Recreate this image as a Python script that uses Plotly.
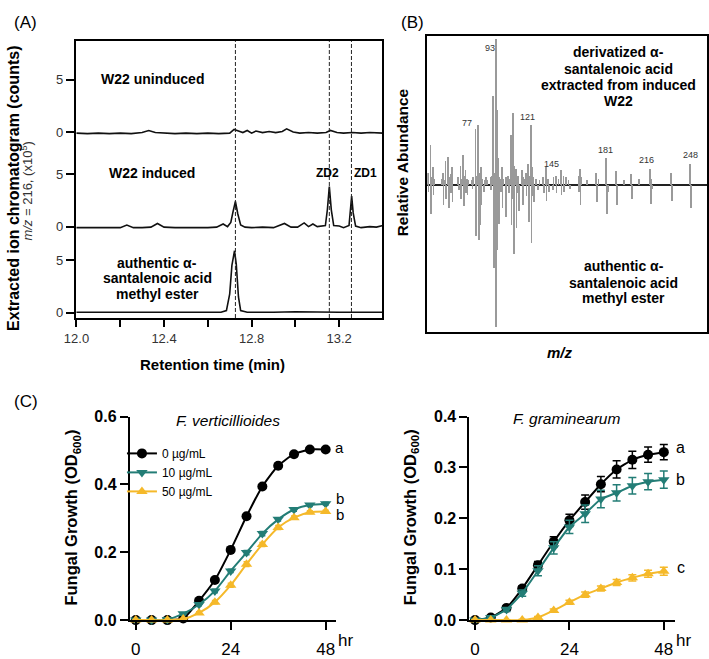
import plotly.graph_objects as go

W, H = 709, 659
FONT = "Liberation Sans, Arial, Helvetica, sans-serif"


def px(x):
    return x / W


def py(y):
    return 1 - y / H


# ---------------- Panel A: extracted ion chromatograms ----------------
rt_uninduced = [12.00, 12.05, 12.10, 12.15, 12.20, 12.25, 12.30, 12.33, 12.36, 12.40,
                12.45, 12.50, 12.55, 12.60, 12.65, 12.70, 12.72, 12.74, 12.76, 12.78,
                12.80, 12.82, 12.85, 12.88, 12.91, 12.94, 12.96, 12.99, 13.02, 13.06,
                13.10, 13.14, 13.16, 13.19, 13.22, 13.26, 13.30, 13.34, 13.38, 13.40]
int_uninduced = [-0.1, -0.15, -0.1, -0.15, -0.1, -0.15, -0.05, 0.15, -0.05, -0.1,
                 -0.15, -0.1, -0.15, -0.1, -0.15, -0.1, 0.25, 0.1, -0.05, 0.15,
                 -0.1, 0.1, -0.05, 0.05, -0.05, 0.05, 0.3, 0.0, -0.1, -0.05,
                 -0.1, -0.05, 0.15, -0.05, -0.1, -0.05, -0.1, -0.05, -0.1, -0.1]

rt_induced = [12.00, 12.05, 12.10, 12.15, 12.20, 12.23, 12.26, 12.30, 12.34, 12.37,
              12.40, 12.45, 12.50, 12.55, 12.60, 12.64, 12.67, 12.69, 12.705, 12.715,
              12.726, 12.737, 12.75, 12.77, 12.80, 12.85, 12.90, 12.95, 12.98, 13.01,
              13.04, 13.06, 13.08, 13.10, 13.12, 13.137, 13.146, 13.155, 13.164, 13.175,
              13.20, 13.22, 13.245, 13.251, 13.257, 13.264, 13.275, 13.30, 13.34, 13.37, 13.40]
int_induced = [-0.1, -0.1, -0.15, -0.1, -0.1, 0.15, -0.1, -0.1, -0.05, 0.3,
               -0.05, -0.1, -0.1, -0.15, -0.1, -0.05, 0.25, 0.0, 0.4, 1.4,
               2.4, 1.2, 0.15, -0.05, -0.1, -0.05, -0.1, 0.3, -0.05, -0.05,
               0.35, 0.0, 0.25, 0.0, 0.05, 0.1, 1.6, 3.8, 1.6, 0.1,
               0.05, -0.1, 0.1, 1.4, 2.9, 1.3, 0.05, -0.1, 0.0, -0.05, 0.1]

rt_authentic = [12.00, 12.20, 12.40, 12.60, 12.66, 12.685, 12.70, 12.71, 12.722, 12.73,
                12.74, 12.75, 12.78, 12.90, 13.00, 13.20, 13.40]
int_authentic = [0.05, 0.05, 0.05, 0.05, 0.05, 0.2, 1.8, 4.5, 5.9, 4.6,
                 1.5, 0.2, 0.05, 0.05, 0.1, 0.05, 0.05]

ref_times = [12.726, 13.155, 13.256]
A_xticks = [12.0, 12.2, 12.4, 12.6, 12.8, 13.0, 13.2]
A_xticktext = ["12.0", "", "12.4", "", "12.8", "", "13.2"]

# ---------------- Panel B: mass spectra ----------------
mz_deriv = [39, 41, 42, 43, 44, 50, 51, 52, 53, 55, 56, 57, 58, 63, 65, 66, 67, 68, 69, 70,
            71, 74, 75, 77, 78, 79, 80, 81, 82, 84, 85, 86, 89, 90, 91, 92, 93, 94, 95, 96,
            97, 98, 99, 101, 103, 104, 105, 106, 107, 108, 109, 110, 111, 114, 115, 116, 117,
            119, 120, 121, 122, 123, 125, 128, 131, 133, 134, 135, 139, 141, 143, 145, 147,
            149, 151, 159, 160, 161, 166, 173, 175, 181, 189, 195, 201, 207, 216, 217, 233, 248]
ab_deriv = [8, 27, 5, 12, 4, 4, 8, 3, 16, 19, 5, 7, 12, 5, 13, 4, 20, 6, 10, 4,
            3, 3, 5, 38, 6, 41, 8, 12, 4, 3, 5, 3, 5, 6, 61, 8, 100, 51, 18, 5,
            4, 12, 4, 5, 6, 4, 34, 9, 49, 13, 11, 4, 6, 10, 5, 4, 8,
            14, 6, 41, 12, 5, 4, 3, 5, 12, 4, 4, 5, 6, 4, 10, 6,
            5, 3, 6, 11, 5, 3, 8, 4, 18, 9, 3, 7, 4, 11, 4, 8, 14]

mz_auth = [39, 41, 43, 51, 53, 55, 57, 58, 63, 65, 67, 69, 70, 74, 77, 79, 80, 81, 83, 89,
           91, 92, 93, 94, 95, 97, 98, 101, 103, 105, 106, 107, 109, 110, 111, 114, 117, 119,
           121, 122, 123, 126, 131, 133, 135, 138, 141, 145, 147, 152, 159, 160, 173, 181,
           182, 189, 201, 216, 217, 233, 248]
ab_auth = [5, 20, 7, 14, 10, 16, 6, 12, 4, 10, 15, 6, 7, 3, 35, 38, 28, 14, 5, 4,
           57, 8, 98, 45, 27, 5, 16, 22, 6, 28, 10, 48, 30, 6, 18, 14, 8, 26,
           40, 8, 12, 4, 6, 11, 5, 4, 6, 7, 5, 3, 5, 14, 12, 20,
           5, 14, 10, 13, 3, 11, 16]

peak_labels = ["93", "77", "121", "145", "181", "216", "248"]

# ---------------- Panel C: fungal growth ----------------
time_hr = [0, 4, 8, 12, 16, 20, 24, 28, 32, 36, 40, 44, 48]
series_names = ["0 µg/mL", "10 µg/mL", "50 µg/mL"]
C_xticks = [0, 24, 48]
C_xticktext = ["0", "24", "48"]
time_unit = "hr"

fv_0 = [0.0, 0.0, 0.0, 0.005, 0.057, 0.118, 0.207, 0.306, 0.394, 0.455, 0.489, 0.503, 0.503]
fv_10 = [0.0, 0.0, 0.002, 0.019, 0.046, 0.086, 0.145, 0.199, 0.255, 0.297, 0.326, 0.339, 0.343]
fv_50 = [0.0, 0.0, 0.0, 0.003, 0.021, 0.053, 0.103, 0.165, 0.223, 0.273, 0.302, 0.318, 0.320]
fv_0_err = [0.0, 0.0, 0.0, 0.002, 0.004, 0.005, 0.006, 0.007, 0.007, 0.005, 0.004, 0.003, 0.003]
fv_10_err = [0.0, 0.0, 0.0, 0.003, 0.004, 0.005, 0.005, 0.006, 0.006, 0.005, 0.005, 0.004, 0.004]
fv_50_err = [0.0, 0.0, 0.0, 0.002, 0.004, 0.005, 0.006, 0.007, 0.006, 0.006, 0.005, 0.004, 0.004]

fg_0 = [0.0, 0.005, 0.024, 0.062, 0.108, 0.154, 0.196, 0.232, 0.267, 0.296, 0.315, 0.325, 0.330]
fg_10 = [0.0, 0.005, 0.021, 0.053, 0.097, 0.142, 0.183, 0.209, 0.238, 0.250, 0.264, 0.272, 0.276]
fg_50 = [0.0, 0.0, 0.0, 0.0, 0.005, 0.019, 0.035, 0.050, 0.062, 0.074, 0.083, 0.091, 0.096]
fg_0_err = [0.0, 0.002, 0.004, 0.005, 0.007, 0.010, 0.012, 0.014, 0.015, 0.017, 0.017, 0.015, 0.015]
fg_10_err = [0.0, 0.002, 0.004, 0.006, 0.010, 0.012, 0.013, 0.017, 0.017, 0.016, 0.016, 0.016, 0.017]
fg_50_err = [0.0, 0.0, 0.0, 0.001, 0.002, 0.003, 0.004, 0.005, 0.005, 0.006, 0.006, 0.007, 0.008]

letters_fv = ["a", "b", "b"]
letters_fg = ["a", "b", "c"]

# ---------------- styling constants ----------------
A_offsets = [17.2, 8.2, 0.0]
BLACK = "#000000"
TEAL = "#237d76"
YELLOW = "#f5b92a"
GRAY_BAR = "#9a9a9a"
colors = [BLACK, TEAL, YELLOW]
symbols = ["circle", "triangle-down", "triangle-up"]

fig = go.Figure()

# Panel A traces
for rt, inten, off in [(rt_uninduced, int_uninduced, A_offsets[0]),
                       (rt_induced, int_induced, A_offsets[1]),
                       (rt_authentic, int_authentic, A_offsets[2])]:
    fig.add_trace(go.Scatter(x=rt, y=[v + off for v in inten], mode="lines",
                             line=dict(color="#111", width=1.6), showlegend=False,
                             xaxis="x", yaxis="y", hoverinfo="skip"))

for t in ref_times:
    fig.add_shape(type="line", xref="x", yref="y domain", x0=t, x1=t, y0=0, y1=1,
                  line=dict(color="#222", width=1, dash="4px,2px"))

# Panel B traces
fig.add_trace(go.Bar(x=mz_deriv, y=ab_deriv, width=0.6, marker=dict(color=GRAY_BAR, line=dict(width=0)),
                     showlegend=False, xaxis="x2", yaxis="y2"))
fig.add_trace(go.Bar(x=mz_auth, y=[-v for v in ab_auth], width=0.6,
                     marker=dict(color=GRAY_BAR, line=dict(width=0)),
                     showlegend=False, xaxis="x2", yaxis="y2"))

# Panel C traces
fv_sets = [(fv_0, fv_0_err), (fv_10, fv_10_err), (fv_50, fv_50_err)]
fg_sets = [(fg_0, fg_0_err), (fg_10, fg_10_err), (fg_50, fg_50_err)]
for i, (vals, err) in enumerate(fv_sets):
    fig.add_trace(go.Scatter(x=time_hr, y=vals, name=series_names[i], mode="lines+markers",
                             line=dict(color=colors[i], width=2, shape="spline", smoothing=0.6),
                             marker=dict(symbol=symbols[i], size=10, color=colors[i]),
                             error_y=dict(type="data", array=err, color=colors[i], thickness=1.5, width=3),
                             cliponaxis=False, xaxis="x3", yaxis="y3", showlegend=True))
for i, (vals, err) in enumerate(fg_sets):
    fig.add_trace(go.Scatter(x=time_hr, y=vals, name=series_names[i], mode="lines+markers",
                             line=dict(color=colors[i], width=2, shape="spline", smoothing=0.4),
                             marker=dict(symbol=symbols[i], size=10, color=colors[i]),
                             error_y=dict(type="data", array=err, color=colors[i], thickness=1.5, width=4),
                             cliponaxis=False, xaxis="x4", yaxis="y4", showlegend=False))

# ---------------- annotations ----------------
ann = []


def text(t, x, y, size, bold=False, italic=False, color="black", angle=0,
         xanchor="center", yanchor="middle"):
    s = t
    if bold:
        s = "<b>" + s + "</b>"
    if italic:
        s = "<i>" + s + "</i>"
    ann.append(dict(text=s, x=px(x), y=py(y), xref="paper", yref="paper", showarrow=False,
                    xanchor=xanchor, yanchor=yanchor, textangle=angle,
                    font=dict(family=FONT, size=size, color=color)))


# panel letters
text("(A)", 14, 15, 17)
text("(B)", 408, 15, 17)
text("(C)", 14, 405, 17)

# Panel A texts
text("W22 uninduced", 143, 73, 14, bold=True)
text("W22 induced", 142.5, 170, 14, bold=True)
text("ZD2", 321, 170, 12, bold=True)
text("ZD1", 360, 170, 12, bold=True)
for s, yy in zip(["authentic α-", "santalenoic acid", "methyl ester"], [262, 278, 294.5]):
    text(s, 148, yy, 14, bold=True)
text("Retention time (min)", 204.5, 366, 15, bold=True)
text("Extracted ion chromatogram (counts)", 2, 185, 16, bold=True, angle=-90)
text("<i>m/z</i> = 216, (x10<sup>5</sup>)", 15, 188, 13, color="#333", angle=-90)

# Panel B texts
for s, (xx, yy) in zip(peak_labels, [(486.5, 41), (464, 118), (525.5, 112), (550, 160),
                                      (605, 146), (646, 156), (691, 151)]):
    text(s, xx, yy, 9, color="#333")
for s, yy in zip(["derivatized α-", "santalenoic acid", "extracted from induced", "W22"],
                 [45.7, 62.3, 79, 95.7]):
    text(s, 618, yy, 14, bold=True)
for s, yy in zip(["authentic α-", "santalenoic acid", "methyl ester"], [265.7, 282.3, 298.5]):
    text(s, 623, yy, 14, bold=True)
text("Relative Abundance", 398, 159, 15.5, bold=True, angle=-90)
text("<i>m/z</i>", 558, 354, 15, bold=True)

# Panel C texts
text("F. verticillioides", 220, 424, 15.5, italic=True)
text("F. graminearum", 565, 422.5, 15.5, italic=True)
for s, yy in zip(letters_fv, [452, 504.5, 521]):
    text(s, 334, yy, 15)
for s, yy in zip(letters_fg, [452.3, 484.7, 575.7]):
    text(s, 681, yy, 16)
text("Fungal Growth (OD<sub>600</sub>)", 61, 524, 16.5, bold=True, angle=-90)
text("Fungal Growth (OD<sub>600</sub>)", 406, 524, 16.5, bold=True, angle=-90)

# "hr" unit next to the last time tick (just below each C panel's x axis)
for xx, yr in [(339.5, "y3 domain"), (684, "y4 domain")]:
    ann.append(dict(text=time_unit, x=px(xx), y=0, xref="paper", yref=yr, showarrow=False,
                    xanchor="center", yanchor="top", yshift=-10, borderpad=0,
                    font=dict(family=FONT, size=17, color="black")))

# ---------------- layout ----------------
axis_common = dict(showgrid=False, zeroline=False, linecolor="black")

A_yticks = []
A_yticktext = []
for off in A_offsets:
    A_yticks += [off, off + 5]
    A_yticktext += ["0", "5"]

fig.update_layout(
    width=W, height=H, margin=dict(l=0, r=0, t=0, b=0),
    paper_bgcolor="white", plot_bgcolor="white",
    font=dict(family=FONT, color="black"),
    bargap=0,
    annotations=ann,
    legend=dict(x=px(112), y=py(443), xanchor="left", yanchor="top",
                font=dict(family=FONT, size=12, color="black"),
                bgcolor="rgba(0,0,0,0)", tracegroupgap=0, itemwidth=30),
    xaxis=dict(domain=[px(65), px(377)], range=[11.997, 13.396], anchor="y",
               tickmode="array", tickvals=A_xticks, ticktext=A_xticktext,
               ticks="outside", ticklen=7, tickwidth=1.5, tickcolor="black",
               showline=True, linewidth=2, mirror=True,
               tickfont=dict(size=13, color="#333"), **axis_common),
    yaxis=dict(domain=[py(318.7), py(34)], range=[-0.5, 25.86], anchor="x",
               tickmode="array", tickvals=A_yticks, ticktext=A_yticktext,
               ticks="outside", ticklen=8, tickwidth=1.5, tickcolor="black",
               showline=True, linewidth=2, mirror=True,
               tickfont=dict(size=13, color="#333"), **axis_common),
    xaxis2=dict(domain=[px(423), px(708)], range=[38, 261], anchor="y2",
                showticklabels=False, ticks="", showline=True, linewidth=2, mirror=True,
                **axis_common),
    yaxis2=dict(domain=[py(333), py(29)], range=[-101, 102], anchor="x2",
                showticklabels=False, ticks="", showline=True, linewidth=2, mirror=True,
                showgrid=False, zeroline=True, zerolinecolor="#222", zerolinewidth=1.5,
                linecolor="black"),
    xaxis3=dict(domain=[px(120), px(330)], range=[-1.5, 50.6], anchor="y3",
                tickmode="array", tickvals=C_xticks, ticktext=C_xticktext,
                ticks="outside", ticklen=8, tickwidth=2, tickcolor="black",
                ticklabelstandoff=4,
                showline=True, linewidth=2, tickfont=dict(size=17, color="black"),
                **axis_common),
    yaxis3=dict(domain=[py(629.3), py(420)], range=[0, 0.6], anchor="x3",
                tickmode="array", tickvals=[0, 0.2, 0.4, 0.6], ticktext=["0.0", "0.2", "0.4", "0.6"],
                ticks="outside", ticklen=8, tickwidth=2, tickcolor="black",
                showline=True, linewidth=2,
                tickfont=dict(size=16, color="black", weight="bold"), **axis_common),
    xaxis4=dict(domain=[px(466), px(675)], range=[-1.42, 50.75], anchor="y4",
                tickmode="array", tickvals=C_xticks, ticktext=C_xticktext,
                ticks="outside", ticklen=8, tickwidth=2, tickcolor="black",
                ticklabelstandoff=4,
                showline=True, linewidth=2, tickfont=dict(size=17, color="black"),
                **axis_common),
    yaxis4=dict(domain=[py(629.3), py(420)], range=[0, 0.4], anchor="x4",
                tickmode="array", tickvals=[0, 0.1, 0.2, 0.3, 0.4],
                ticktext=["0.0", "0.1", "0.2", "0.3", "0.4"],
                ticks="outside", ticklen=8, tickwidth=2, tickcolor="black",
                showline=True, linewidth=2,
                tickfont=dict(size=16, color="black", weight="bold"), **axis_common),
)

fig.write_html("out.html")
